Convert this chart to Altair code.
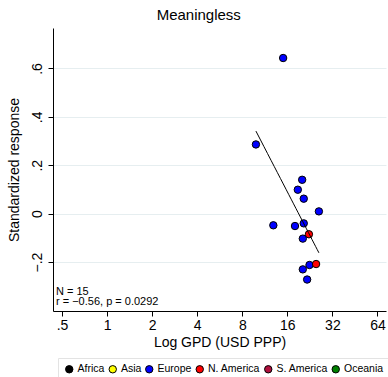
import altair as alt
import numpy as np
import pandas as pd

# GDP per capita (thousand USD, PPP), standardized response and world region
gdp = [15.0, 9.87, 20.1, 18.8, 20.6, 26.0, 12.9, 18.0, 20.6, 22.3, 20.3, 20.3, 22.5, 24.9, 21.7]
response = [0.643, 0.286, 0.140, 0.099, 0.062, 0.0095, -0.048, -0.051, -0.040,
            -0.085, -0.103, -0.230, -0.212, -0.208, -0.272]
region = ["Europe", "Europe", "Europe", "Europe", "Europe", "Europe", "Europe", "Europe",
          "Europe", "N. America", "Europe", "Europe", "Europe", "N. America", "Europe"]

regions = ["Africa", "Asia", "Europe", "N. America", "S. America", "Oceania"]
region_colors = ["#000000", "#ffff00", "#0000ff", "#ff0000", "#b0103e", "#008000"]

x_ticks = [0.5, 1, 2, 4, 8, 16, 32, 64]
y_ticks = [-0.2, 0, 0.2, 0.4, 0.6]
p_value = "0.0292"

df = pd.DataFrame({"gdp": gdp, "resp": response, "region": region})

# correlation of the response with log GDP, shown in the corner note
r = np.corrcoef(np.log(gdp), response)[0, 1]
n_line = pd.DataFrame({"line": [f"N = {len(gdp)}"]})
r_line = pd.DataFrame({"line": [f"r = {r:.2f}, p = {p_value}".replace("-", "\u2212")]})

FONT = "Liberation Sans"

x_enc = alt.X(
    "gdp:Q",
    scale=alt.Scale(type="log", base=2, domain=[0.435, 73.0], nice=False, zero=False),
    axis=alt.Axis(
        title="Log GPD (USD PPP)", values=x_ticks,
        labelExpr="datum.value < 1 ? '.5' : format(datum.value, 'd')",
        grid=False, tickSize=5, labelPadding=2, titlePadding=3,
        labelFontSize=14, titleFontSize=14, titleFontWeight="normal",
    ),
)
y_enc = alt.Y(
    "resp:Q",
    scale=alt.Scale(domain=[-0.402, 0.767], nice=False, zero=False),
    axis=alt.Axis(
        title="Standardized response", values=y_ticks,
        labelExpr="datum.value == 0 ? '0' : replace(replace(format(datum.value, '.1f'), '0.', '.'), '-', '\u2212')",
        grid=True, gridColor="#e6eef0", gridWidth=1,
        tickSize=5, labelAngle=270, labelAlign="center", labelBaseline="bottom",
        labelPadding=4, titlePadding=9, labelFontSize=14, titleFontSize=14,
        titleFontWeight="normal",
    ),
)

points = alt.Chart(df).mark_circle(size=55, opacity=1, stroke="black", strokeWidth=1).encode(
    x=x_enc,
    y=y_enc,
    color=alt.Color(
        "region:N",
        scale=alt.Scale(domain=regions, range=region_colors),
        legend=alt.Legend(
            title=None, orient="none", legendX=5, legendY=330,
            direction="horizontal", columns=6, columnPadding=1.5,
            symbolType="circle", symbolSize=55, symbolStrokeColor="black",
            symbolStrokeWidth=1, symbolOpacity=1, labelFontSize=10.5,
            labelFont=FONT, labelColor="black", labelOffset=3,
            strokeColor="#e3e3e3", padding=6, labelLimit=200,
        ),
    ),
)

# least-squares fit of the response on log GDP, over the observed range
fit = alt.Chart(df).transform_regression(
    "gdp", "resp", method="log"
).mark_line(color="black", strokeWidth=1).encode(x="gdp:Q", y="resp:Q")

note_style = dict(align="left", baseline="alphabetic", fontSize=11, font=FONT, color="black")
n_text = alt.Chart(n_line).mark_text(**note_style).encode(
    x=alt.value(3), y=alt.value(267), text="line:N"
)
r_text = alt.Chart(r_line).mark_text(**note_style).encode(
    x=alt.value(3), y=alt.value(277), text="line:N"
)

chart = alt.layer(points, fit, n_text, r_text).properties(
    width=333,
    height=283,
    autosize=alt.AutoSizeParams(type="none"),
    padding={"left": 53, "top": 28, "right": 2, "bottom": 66},
    background="white",
    title=alt.TitleParams(
        "Meaningless", fontSize=15, font=FONT, fontWeight="normal",
        anchor="middle", frame="bounds", offset=5, color="black",
    ),
).configure_view(stroke=None).configure_axis(
    domainColor="black", tickColor="black", labelColor="black", titleColor="black",
    labelFont=FONT, titleFont=FONT, titleFontWeight="normal",
)

chart.save("out.html", embed_options={"renderer": "svg", "actions": False})
